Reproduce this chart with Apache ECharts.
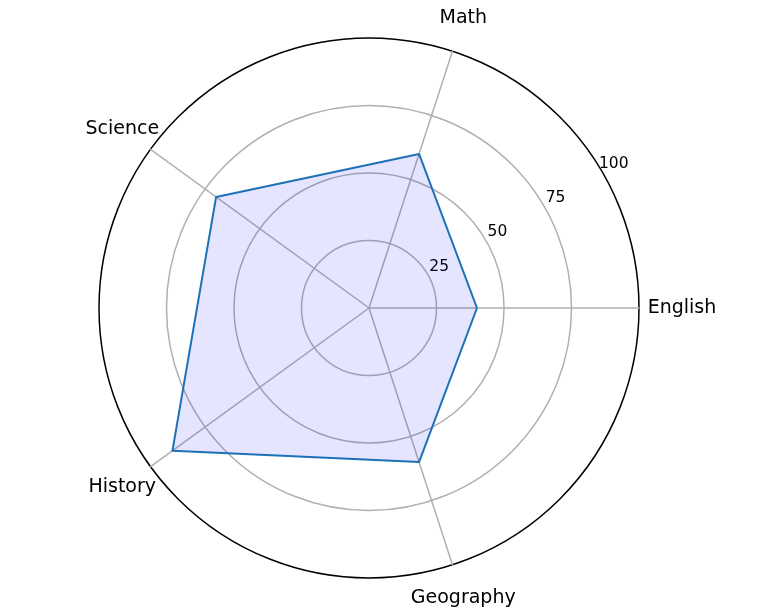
<!DOCTYPE html>
<html><head><meta charset="utf-8">
<script src="https://cdn.jsdelivr.net/npm/echarts@6/dist/echarts.min.js"></script>
<style>html,body{margin:0;padding:0;background:#fff}#c{width:768px;height:611px}</style>
</head><body><div id="c"></div>
<script>
const categories = ['English', 'Math', 'Science', 'History', 'Geography'];
const scores = [40, 60, 70, 90, 60];
const radialTicks = [0, 25, 50, 75, 100];
const radialTickLabels = ['', '25', '50', '75', '100'];
const maxValue = 100;

const cx = 369, cy = 308, R = 270;
const FONT = 'DejaVu Sans';
const chart = echarts.init(document.getElementById('c'), null, {renderer: 'canvas'});
const step = 360 / categories.length;
const option = {
  animation: false,
  backgroundColor: '#ffffff',
  radar: {
    center: [cx, cy], radius: R, startAngle: 0, shape: 'circle', splitNumber: 4,
    indicator: categories.map(n => ({name: n, min: 0, max: maxValue})),
    axisName: {show: false},
    axisLine: {lineStyle: {color: '#b0b0b0', width: 1.5}},
    axisTick: {show: false},
    axisLabel: {show: false},
    splitArea: {show: false},
    splitLine: {lineStyle: {color: ['#b0b0b0', '#b0b0b0', '#b0b0b0', '#b0b0b0', '#000000'], width: 1.5}}
  },
  polar: [
    {center: [cx, cy], radius: [14, 284]},
    {center: [cx, cy], radius: 305}
  ],
  angleAxis: [
    {polarIndex: 0, type: 'value', min: 0, max: 360, startAngle: 30.5, show: false},
    {polarIndex: 1, type: 'value', min: 0, max: 360, startAngle: 0, clockwise: false, show: false}
  ],
  radiusAxis: [
    {polarIndex: 0, type: 'value', min: 0, max: maxValue, interval: 25,
     axisLine: {show: false}, axisTick: {show: false}, splitLine: {show: false},
     axisLabel: {show: true, margin: 0, align: 'center', verticalAlign: 'middle',
       fontFamily: FONT, fontSize: 15.5, color: '#000',
       formatter: v => { const i = radialTicks.indexOf(v); return i >= 0 ? radialTickLabels[i] : ''; }}},
    {polarIndex: 1, type: 'value', min: 0, max: maxValue, show: false}
  ],
  series: [
    {
      type: 'radar',
      symbol: 'none',
      lineStyle: {color: '#1f77b4', width: 2},
      areaStyle: {color: 'rgba(0,0,255,0.1)', opacity: 1},
      data: [{value: scores, name: 'Scores'}],
      silent: true
    },
    {
      type: 'scatter',
      coordinateSystem: 'polar',
      polarIndex: 1,
      symbolSize: 0,
      itemStyle: {color: '#000000', opacity: 1},
      silent: true,
      label: {show: true, position: 'inside', formatter: '{b}', fontFamily: FONT, fontSize: 19,
              color: '#000000', textBorderWidth: 0, opacity: 1},
      data: categories.map((n, i) => ({
        name: n, value: [maxValue, i * step],
        label: i === 0 ? {offset: [8, 0]} : undefined
      }))
    }
  ]
};
chart.setOption(option);
</script>
</body></html>
